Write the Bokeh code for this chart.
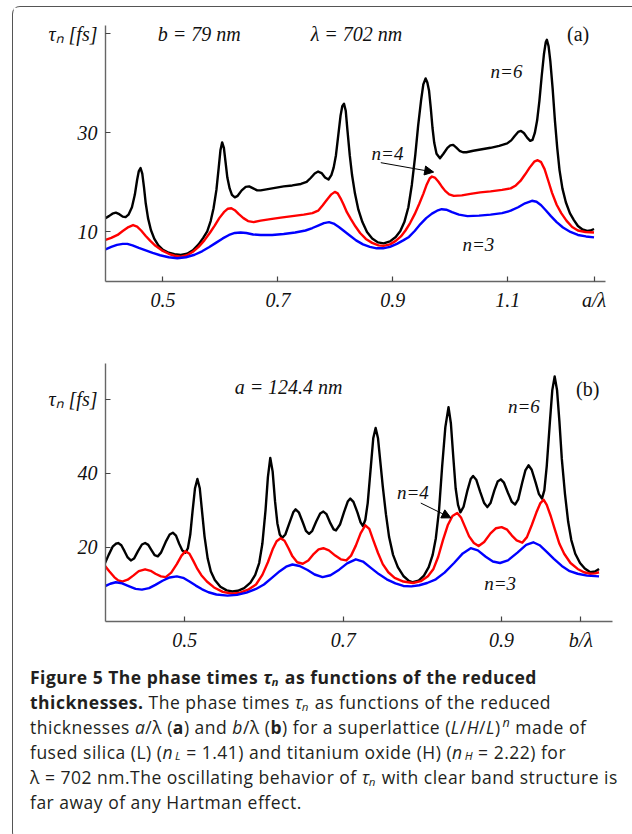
from bokeh.plotting import figure
from bokeh.layouts import column
from bokeh.models import Label, Arrow, NormalHead, Range1d, FixedTicker, Div
from bokeh.embed import file_html
from bokeh.resources import INLINE

# ---------------- data: panel (a), tau_n vs a/lambda ----------------
a_x_n6 = [0.400, 0.406, 0.412, 0.418, 0.424, 0.430, 0.435, 0.440, 0.446, 0.451, 0.455, 0.458,
          0.461, 0.464, 0.467, 0.470, 0.474, 0.479, 0.485, 0.492, 0.500, 0.510, 0.520, 0.531,
          0.542, 0.552, 0.562, 0.570, 0.577, 0.583, 0.588, 0.593, 0.597, 0.600, 0.603, 0.606,
          0.609, 0.612, 0.616, 0.620, 0.625, 0.630, 0.637, 0.644, 0.650, 0.657, 0.664, 0.670,
          0.680, 0.695, 0.710, 0.725, 0.740, 0.750, 0.757, 0.764, 0.770, 0.776, 0.782, 0.788,
          0.793, 0.797, 0.801, 0.805, 0.809, 0.812, 0.815, 0.818, 0.821, 0.825, 0.829, 0.834,
          0.840, 0.847, 0.855, 0.864, 0.874, 0.884, 0.895, 0.905, 0.913, 0.920, 0.927, 0.933,
          0.939, 0.944, 0.949, 0.953, 0.957, 0.960, 0.963, 0.966, 0.969, 0.972, 0.976, 0.982,
          0.988, 0.995, 1.000, 1.005, 1.010, 1.016, 1.022, 1.028, 1.040, 1.055, 1.070, 1.085,
          1.099, 1.106, 1.112, 1.118, 1.123, 1.128, 1.134, 1.139, 1.143, 1.147, 1.151, 1.155,
          1.159, 1.163, 1.166, 1.168, 1.171, 1.174, 1.178, 1.182, 1.186, 1.190, 1.195, 1.201,
          1.208, 1.215, 1.222, 1.230, 1.238, 1.244, 1.250]
a_y_n6 = [12.8, 13.2, 13.7, 13.9, 13.6, 13.1, 13.0, 13.5, 15.0, 17.5, 20.5, 22.3,
          22.9, 21.8, 19.0, 15.8, 12.8, 10.4, 8.6, 7.3, 6.4, 5.8, 5.5, 5.35,
          5.6, 6.3, 7.5, 8.8, 10.1, 12.2, 14.8, 18.5, 23.0, 26.5, 28.1, 27.0,
          24.0, 21.0, 18.8, 17.5, 17.0, 17.3, 18.4, 19.1, 19.2, 18.8, 18.4, 18.4,
          18.6, 18.9, 19.2, 19.4, 19.7, 20.1, 20.9, 21.8, 22.2, 21.9, 21.0, 20.6,
          21.5, 23.0, 25.5, 29.5, 33.5, 35.4, 35.9, 34.5, 30.5, 25.5, 21.5, 17.8,
          14.5, 12.0, 10.0, 8.7, 7.9, 7.7, 8.1, 9.0, 10.2, 12.0, 15.0, 19.5,
          25.5, 31.5, 36.5, 39.8, 41.0, 40.2, 38.5, 35.0, 31.0, 28.0, 25.8, 24.9,
          25.8, 27.0, 27.5, 27.6, 27.1, 26.4, 26.1, 26.1, 26.4, 26.7, 27.0, 27.4,
          27.9, 28.5, 29.4, 30.2, 30.4, 30.0, 29.0, 28.4, 28.6, 30.0, 32.5, 36.5,
          41.5, 46.0, 48.3, 48.8, 47.5, 44.5, 39.0, 32.5, 27.0, 22.5, 18.8, 16.0,
          13.8, 12.4, 11.2, 10.5, 10.2, 10.3, 10.6]

a_x_n4 = [0.400, 0.410, 0.421, 0.430, 0.440, 0.448, 0.455, 0.462, 0.470, 0.478, 0.487, 0.498,
          0.510, 0.520, 0.531, 0.542, 0.552, 0.562, 0.572, 0.582, 0.590, 0.598, 0.606, 0.613,
          0.619, 0.625, 0.632, 0.640, 0.648, 0.658, 0.670, 0.687, 0.705, 0.725, 0.745, 0.760,
          0.770, 0.778, 0.786, 0.793, 0.799, 0.804, 0.809, 0.814, 0.820, 0.827, 0.835, 0.843,
          0.853, 0.864, 0.875, 0.884, 0.895, 0.905, 0.914, 0.922, 0.930, 0.938, 0.946, 0.953,
          0.959, 0.964, 0.968, 0.973, 0.979, 0.985, 0.991, 0.998, 1.006, 1.020, 1.035, 1.052,
          1.070, 1.090, 1.105, 1.114, 1.122, 1.130, 1.138, 1.146, 1.152, 1.158, 1.164, 1.170,
          1.177, 1.185, 1.193, 1.202, 1.212, 1.222, 1.235, 1.250]
a_y_n4 = [8.4, 8.8, 9.4, 10.2, 11.0, 11.4, 11.1, 10.3, 9.2, 8.2, 7.2, 6.3,
          5.6, 5.2, 5.0, 5.3, 6.0, 7.0, 8.3, 9.9, 11.3, 12.8, 14.0, 14.7,
          14.8, 14.4, 13.6, 12.8, 12.2, 12.0, 12.3, 12.6, 12.9, 13.2, 13.5, 13.8,
          14.3, 15.4, 16.6, 17.6, 18.1, 17.8, 16.8, 15.6, 14.0, 12.6, 11.1, 9.8,
          8.6, 7.8, 7.3, 7.2, 7.5, 8.2, 9.1, 10.3, 11.8, 13.6, 15.7, 17.7,
          19.6, 20.8, 21.2, 21.0, 20.2, 19.2, 18.3, 17.6, 17.3, 17.4, 17.7, 18.0,
          18.2, 18.5, 18.8, 19.4, 20.3, 21.6, 23.0, 24.2, 24.5, 24.1, 22.7, 20.5,
          17.9, 15.5, 13.8, 12.3, 11.0, 10.3, 10.0, 9.9]

a_x_n3 = [0.400, 0.410, 0.420, 0.430, 0.438, 0.447, 0.458, 0.470, 0.482, 0.495, 0.510, 0.525,
          0.540, 0.555, 0.568, 0.580, 0.592, 0.604, 0.615, 0.625, 0.635, 0.645, 0.657, 0.670,
          0.690, 0.710, 0.730, 0.748, 0.760, 0.770, 0.780, 0.789, 0.797, 0.806, 0.815, 0.825,
          0.836, 0.848, 0.860, 0.872, 0.883, 0.895, 0.907, 0.918, 0.928, 0.938, 0.948, 0.958,
          0.968, 0.977, 0.985, 0.993, 1.003, 1.015, 1.030, 1.050, 1.070, 1.090, 1.105, 1.118,
          1.130, 1.142, 1.150, 1.158, 1.166, 1.175, 1.185, 1.196, 1.209, 1.222, 1.236, 1.250]
a_y_n3 = [6.5, 7.0, 7.4, 7.6, 7.6, 7.3, 6.8, 6.3, 5.8, 5.3, 4.9, 4.7,
          4.9, 5.4, 6.1, 6.9, 7.8, 8.7, 9.4, 9.8, 9.9, 9.8, 9.5, 9.4,
          9.4, 9.6, 9.9, 10.3, 10.8, 11.3, 11.8, 12.0, 11.7, 11.0, 10.2, 9.3,
          8.3, 7.5, 7.0, 6.7, 6.7, 7.0, 7.6, 8.3, 9.0, 10.2, 11.6, 12.8,
          13.7, 14.3, 14.6, 14.5, 14.0, 13.5, 13.2, 13.3, 13.5, 13.8, 14.3, 15.0,
          15.8, 16.3, 16.1, 15.4, 14.4, 13.2, 12.0, 10.9, 10.0, 9.4, 9.1, 8.9]

# ---------------- data: panel (b), tau_n vs b/lambda ----------------
b_x_n6 = [0.399, 0.404, 0.409, 0.413, 0.416, 0.420, 0.424, 0.428, 0.432, 0.436, 0.441, 0.446,
          0.450, 0.454, 0.458, 0.462, 0.466, 0.470, 0.476, 0.481, 0.485, 0.489, 0.493, 0.497,
          0.501, 0.504, 0.507, 0.510, 0.513, 0.516, 0.519, 0.522, 0.525, 0.529, 0.533, 0.538,
          0.545, 0.553, 0.560, 0.567, 0.575, 0.583, 0.589, 0.594, 0.598, 0.602, 0.605, 0.608,
          0.611, 0.614, 0.617, 0.620, 0.623, 0.627, 0.632, 0.637, 0.640, 0.644, 0.649, 0.653,
          0.657, 0.661, 0.666, 0.671, 0.675, 0.679, 0.684, 0.688, 0.691, 0.696, 0.701, 0.706,
          0.709, 0.713, 0.718, 0.722, 0.725, 0.728, 0.731, 0.735, 0.738, 0.741, 0.744, 0.747,
          0.750, 0.754, 0.758, 0.763, 0.769, 0.776, 0.783, 0.788, 0.795, 0.802, 0.808, 0.813,
          0.817, 0.821, 0.825, 0.829, 0.833, 0.836, 0.839, 0.842, 0.845, 0.848, 0.852, 0.857,
          0.861, 0.864, 0.868, 0.873, 0.878, 0.882, 0.886, 0.891, 0.895, 0.899, 0.903, 0.908,
          0.913, 0.917, 0.921, 0.926, 0.930, 0.934, 0.938, 0.943, 0.947, 0.951, 0.954, 0.957,
          0.961, 0.964, 0.967, 0.970, 0.973, 0.976, 0.980, 0.984, 0.988, 0.993, 0.999, 1.005,
          1.012, 1.018, 1.023]
b_y_n6 = [15.6, 18.0, 20.2, 21.0, 21.2, 20.6, 19.0, 17.3, 16.5, 17.0, 19.0, 20.8,
          21.2, 20.7, 19.3, 17.9, 17.6, 18.6, 21.5, 23.5, 24.0, 23.2, 21.0, 19.2,
          18.6, 19.8, 23.5, 30.0, 36.0, 38.5, 36.0, 29.5, 23.0, 17.0, 13.5, 11.2,
          9.4, 8.4, 8.1, 8.3, 9.0, 10.5, 12.6, 15.8, 21.0, 30.0, 39.0, 44.2,
          40.5, 32.5, 26.5, 23.5, 22.6, 23.5, 26.5, 29.5, 30.3, 29.5, 26.8, 24.5,
          23.7, 24.5, 27.0, 29.2, 29.7, 29.0, 26.5, 24.9, 24.6, 26.2, 29.5, 32.5,
          33.2, 32.3, 29.5, 26.8, 25.8, 27.5, 32.0, 42.0, 49.5, 52.3, 49.5, 43.0,
          36.5, 29.0, 22.8, 18.0, 14.7, 12.3, 11.0, 10.6, 11.0, 12.4, 14.7, 18.0,
          22.5, 30.0, 42.0, 52.5, 57.9, 53.5, 44.5, 36.0, 31.5, 29.5, 31.0, 35.5,
          38.5, 39.3, 38.3, 35.0, 32.0, 30.9, 32.0, 35.5, 37.8, 38.4, 37.5, 34.8,
          32.3, 31.6, 33.0, 37.5, 40.8, 42.2, 41.0, 37.5, 34.5, 33.2, 35.5, 42.0,
          54.0, 62.5, 66.2, 62.5, 54.0, 44.0, 34.5, 27.0, 22.0, 18.3, 15.8, 14.3,
          13.3, 13.5, 14.2]

b_x_n4 = [0.399, 0.405, 0.411, 0.416, 0.421, 0.428, 0.435, 0.442, 0.450, 0.457, 0.463, 0.470,
          0.476, 0.483, 0.490, 0.496, 0.501, 0.506, 0.511, 0.516, 0.521, 0.528, 0.537, 0.548,
          0.560, 0.570, 0.580, 0.590, 0.598, 0.605, 0.611, 0.616, 0.621, 0.626, 0.631, 0.636,
          0.642, 0.649, 0.656, 0.663, 0.669, 0.675, 0.682, 0.690, 0.697, 0.704, 0.710, 0.716,
          0.722, 0.728, 0.733, 0.738, 0.744, 0.750, 0.757, 0.765, 0.776, 0.788, 0.798, 0.807,
          0.814, 0.820, 0.826, 0.832, 0.838, 0.844, 0.849, 0.854, 0.859, 0.865, 0.871, 0.878,
          0.886, 0.893, 0.900, 0.907, 0.913, 0.919, 0.926, 0.932, 0.938, 0.944, 0.949, 0.953,
          0.957, 0.962, 0.967, 0.973, 0.979, 0.987, 0.996, 1.004, 1.012, 1.018, 1.023]
b_y_n4 = [15.1, 13.5, 12.0, 11.1, 10.8, 11.3, 12.4, 13.6, 14.1, 13.7, 12.9, 12.2,
          12.0, 13.2, 15.5, 17.8, 19.0, 18.3, 16.3, 14.2, 12.5, 10.8, 9.2, 8.0,
          7.5, 7.8, 8.6, 10.0, 12.6, 16.0, 19.5, 21.7, 22.5, 21.8, 19.8, 17.6,
          16.0, 15.6, 16.5, 18.3, 19.5, 19.8, 19.2, 17.8, 16.8, 16.5, 17.8, 20.5,
          23.8, 26.0, 25.0, 22.0, 18.5, 15.5, 13.3, 11.8, 10.8, 10.4, 10.9, 12.2,
          14.2, 17.5, 22.0, 26.0, 28.5, 29.3, 28.0, 25.5, 23.0, 21.2, 20.4, 21.5,
          23.8, 25.2, 25.5, 24.8, 23.2, 21.9, 21.3, 22.8, 26.0, 29.5, 32.0, 32.9,
          31.5, 28.5, 25.0, 21.0, 18.3, 15.8, 14.2, 13.3, 12.9, 13.0, 13.3]

b_x_n3 = [0.399, 0.406, 0.413, 0.421, 0.430, 0.438, 0.446, 0.455, 0.463, 0.472, 0.481, 0.490,
          0.498, 0.506, 0.514, 0.522, 0.530, 0.540, 0.554, 0.566, 0.578, 0.590, 0.600, 0.610,
          0.620, 0.628, 0.636, 0.645, 0.655, 0.664, 0.674, 0.684, 0.695, 0.705, 0.716, 0.725,
          0.735, 0.745, 0.755, 0.766, 0.776, 0.786, 0.796, 0.806, 0.817, 0.828, 0.840, 0.851,
          0.861, 0.870, 0.880, 0.889, 0.898, 0.908, 0.920, 0.931, 0.940, 0.948, 0.957, 0.966,
          0.976, 0.986, 0.996, 1.008, 1.023]
b_y_n3 = [9.5, 10.2, 10.6, 10.3, 9.5, 8.8, 8.6, 9.0, 9.9, 11.0, 11.9, 12.2,
          11.8, 10.8, 9.7, 8.7, 7.9, 7.3, 7.0, 7.2, 7.8, 8.8, 10.0, 11.8,
          13.6, 14.8, 15.4, 15.0, 13.9, 12.7, 12.0, 12.5, 14.0, 15.7, 16.8, 16.2,
          14.5, 12.8, 11.4, 10.3, 9.6, 9.5, 9.8, 10.4, 11.4, 13.2, 15.8, 18.4,
          19.8, 19.2, 17.5, 16.2, 15.8, 16.5, 18.6, 20.7, 21.4, 20.6, 18.8, 16.9,
          15.0, 13.6, 12.9, 12.4, 12.2]

a_xticks = [0.5, 0.7, 0.9, 1.1, 1.25]
a_yticks = [10, 30, 50]
b_xticks = [0.5, 0.7, 0.9, 1.0]
b_yticks = [20, 40, 60]

SERIF = "Liberation Serif"
COL_N6, COL_N4, COL_N3 = "#000000", "#ff0000", "#0000ff"
TAU_LABEL = "τₙ [fs]"


def make_panel(fw, fh, xr, yr, mbl, mbr, mbt, mbb, xticks, yticks, xover, yover):
    p = figure(frame_width=fw, frame_height=fh, x_range=Range1d(*xr), y_range=Range1d(*yr),
               output_backend="svg", toolbar_location=None,
               min_border_left=mbl, min_border_right=mbr, min_border_top=mbt, min_border_bottom=mbb)
    p.outline_line_color = None
    p.grid.visible = False
    p.background_fill_color = "white"
    p.border_fill_color = "white"
    for ax in (p.xaxis[0], p.yaxis[0]):
        ax.axis_line_color = "#666666"
        ax.axis_line_width = 1.4
        ax.major_tick_line_color = "#444444"
        ax.major_tick_line_width = 1.2
        ax.major_tick_in = 5
        ax.major_tick_out = 0
        ax.minor_tick_line_color = None
        ax.major_label_text_font = SERIF
        ax.major_label_text_font_style = "italic"
        ax.major_label_text_font_size = "20px"
        ax.major_label_text_color = "#111111"
    p.xaxis.ticker = FixedTicker(ticks=xticks)
    p.yaxis.ticker = FixedTicker(ticks=yticks)
    p.xaxis.major_label_overrides = xover
    p.yaxis.major_label_overrides = yover
    p.xaxis.major_label_standoff = 7
    p.yaxis.major_label_standoff = 8
    return p


def add_text(p, x, y, text, size="19px", style="italic", xo=0, yo=0):
    p.add_layout(Label(x=x, y=y, text=text, x_offset=xo, y_offset=yo,
                       text_font=SERIF, text_font_style=style, text_font_size=size,
                       text_color="#111111", text_baseline="middle", text_align="left"))


# ---------------- panel (a) ----------------
pa = make_panel(500, 256, (0.4, 1.27), (0, 51.7), 92, 19, 18, 59,
                a_xticks, a_yticks, {1.25: "a/λ"}, {50: TAU_LABEL})
pa.line(a_x_n6, a_y_n6, line_color=COL_N6, line_width=2.4, line_join="round")
pa.line(a_x_n4, a_y_n4, line_color=COL_N4, line_width=2.4, line_join="round")
pa.line(a_x_n3, a_y_n3, line_color=COL_N3, line_width=2.4, line_join="round")
add_text(pa, 0.491, 50.0, "b  =  79  nm", size="20px")
add_text(pa, 0.757, 50.0, "λ  =  702  nm", size="20px")
add_text(pa, 1.203, 50.0, "(a)", size="20px", style="normal")
add_text(pa, 1.070, 42.4, "n=6")
add_text(pa, 0.863, 25.9, "n=4")
add_text(pa, 1.021, 7.5, "n=3")
pa.add_layout(Arrow(end=NormalHead(size=9, fill_color="black", line_color="black"),
                    x_start=0.879, y_start=24.0, x_end=0.971, y_end=22.1,
                    line_color="black", line_width=1))

# ---------------- panel (b) ----------------
pb = make_panel(507, 258, (0.4, 1.04), (0, 69.7), 92, 12, 23, 31,
                b_xticks, b_yticks, {1.0: "b/λ"}, {60: TAU_LABEL})
pb.line(b_x_n6, b_y_n6, line_color=COL_N6, line_width=2.4, line_join="round")
pb.line(b_x_n4, b_y_n4, line_color=COL_N4, line_width=2.4, line_join="round")
pb.line(b_x_n3, b_y_n3, line_color=COL_N3, line_width=2.4, line_join="round")
add_text(pb, 0.563, 63.3, "a  =  124.4  nm", size="20px")
add_text(pb, 0.994, 62.9, "(b)", size="20px", style="normal")
add_text(pb, 0.908, 58.1, "n=6")
add_text(pb, 0.768, 34.9, "n=4")
add_text(pb, 0.878, 10.2, "n=3")
pb.add_layout(Arrow(end=NormalHead(size=9, fill_color="black", line_color="black"),
                    x_start=0.798, y_start=32.0, x_end=0.836, y_end=28.0,
                    line_color="black", line_width=1))

# ---------------- caption ----------------
SUB = ('<span style="line-height:0;font-size:0.66em;margin-left:2px;'
       'vertical-align:-0.12em;">')
SUP = '<sup style="line-height:0;font-size:0.72em;margin-left:2px;">'
caption_html = (
    '<div style="font-family:\'Open Sans\',sans-serif;font-size:17.5px;line-height:25px;'
    'white-space:nowrap;color:#231f20;letter-spacing:0.5px;">'
    '<b>Figure 5 The phase times <i>τₙ</i> as functions of the reduced<br>'
    'thicknesses.</b> The phase times <i>τₙ</i> as functions of the reduced<br>'
    'thicknesses <i>a</i>/λ (<b>a</b>) and <i>b</i>/λ (<b>b</b>) for a superlattice '
    '(<i>L</i>/<i>H</i>/<i>L</i>)' + SUP + '<i>n</i></sup> made of<br>'
    'fused silica (L) (<i>n' + SUB + 'L</span></i> = 1.41) and titanium oxide (H) '
    '(<i>n' + SUB + 'H</span></i> = 2.22) for<br>'
    'λ = 702 nm.The oscillating behavior of <i>τₙ</i> with clear band structure is<br>'
    'far away of any Hartman effect.</div>'
)
cap = Div(text=caption_html, width=611, height=177,
          styles={"padding-top": "7px", "padding-left": "12px"})

layout = column(pa, pb, cap,
                styles={"border-left": "1px solid #555555", "border-top": "1px solid #555555",
                        "border-top-left-radius": "8px", "border-bottom-left-radius": "8px",
                        "margin-left": "12px", "margin-top": "6px"})

open("out.html", "w").write(file_html(layout, INLINE))
